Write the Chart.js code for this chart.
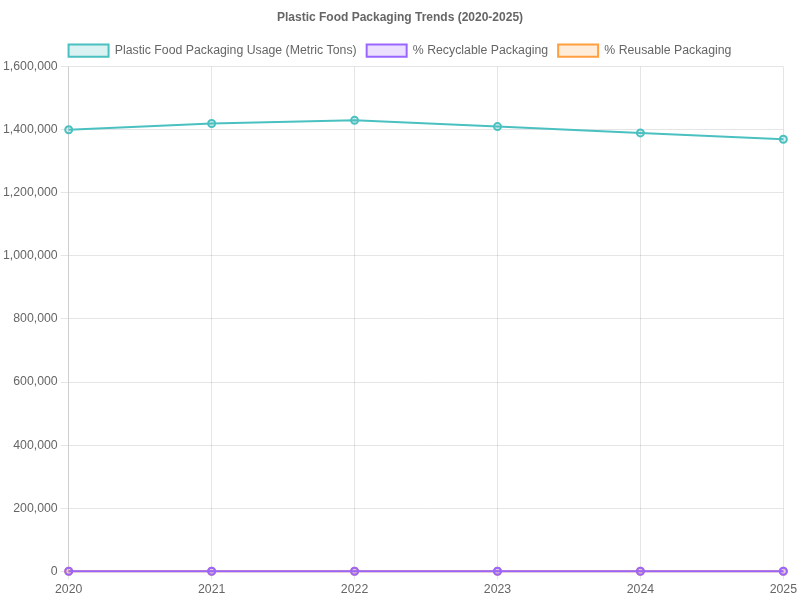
<!DOCTYPE html>
<html>
<head>
<meta charset="utf-8">
<script src="https://cdn.jsdelivr.net/npm/chart.js@4"></script>
<style>
  html, body { margin: 0; padding: 0; background: #fff; }
  #wrap { width: 800px; height: 600px; }
</style>
</head>
<body>
<div id="wrap"><canvas id="chart0"></canvas></div>
<script>
// years on the x axis
const years = ['2020', '2021', '2022', '2023', '2024', '2025'];
// usage in metric tons
const usageTons = [1400000, 1420000, 1430000, 1410000, 1390000, 1370000];
// shares, in percent (tiny next to tons, so they sit on the zero line)
const pctRecyclable = [9, 10, 12, 14, 16, 18];
const pctReusable = [2, 3, 4, 5, 6, 7];

// text in the reference runs a touch wider than default 12px
const textFont = { size: 12.3 };

function makeSet(label, values, color, fillColor) {
  return {
    label: label,
    data: values,
    borderColor: color,
    backgroundColor: fillColor,
    pointBackgroundColor: fillColor,
    pointBorderColor: color,
    borderWidth: 2,
    pointRadius: 3.5,
    fill: false,
    tension: 0
  };
}

let ctx = document.getElementById('chart0').getContext('2d');
new Chart(ctx, {
  type: 'line',
  data: {
    labels: years,
    datasets: [
      makeSet('Plastic Food Packaging Usage (Metric Tons)', usageTons, 'rgba(75, 192, 192, 1)', 'rgba(75, 192, 192, 0.2)'),
      makeSet('% Recyclable Packaging', pctRecyclable, 'rgba(153, 102, 255, 1)', 'rgba(153, 102, 255, 0.2)'),
      makeSet('% Reusable Packaging', pctReusable, 'rgba(255, 159, 64, 1)', 'rgba(255, 159, 64, 0.2)')
    ]
  },
  options: {
    responsive: true,
    maintainAspectRatio: false,
    animation: false,
    plugins: {
      title: {
        display: true,
        text: 'Plastic Food Packaging Trends (2020-2025)'
      },
      legend: {
        labels: { font: textFont }
      }
    },
    scales: {
      x: { ticks: { font: textFont } },
      y: {
        beginAtZero: true,
        max: 1600000,
        ticks: { stepSize: 200000, font: textFont }
      }
    }
  }
});
</script>
</body>
</html>
